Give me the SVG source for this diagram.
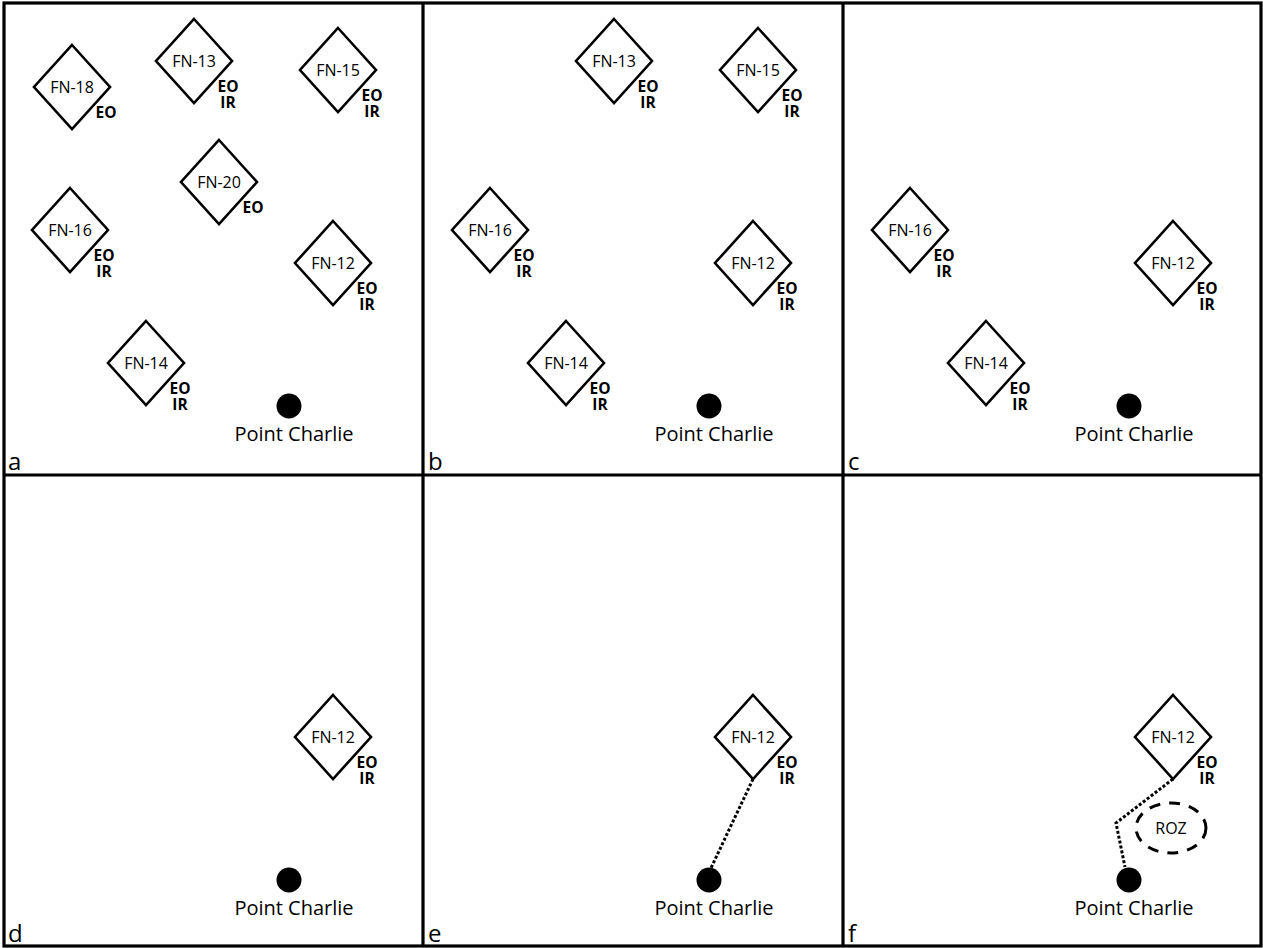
<svg xmlns="http://www.w3.org/2000/svg" xmlns:xlink="http://www.w3.org/1999/xlink" width="1263" height="948" viewBox="0 0 1263 948">
<style>
.frame{fill:none;stroke:#000;stroke-width:3.2}
.dia{fill:#fff;stroke:#000;stroke-width:2.6;stroke-linejoin:miter}
.fn{font-family:"Open Sans","Liberation Sans",sans-serif;font-size:16px;text-anchor:middle;fill:#000}
.sen{font-family:"Open Sans","Liberation Sans",sans-serif;font-size:15.5px;font-weight:bold;text-anchor:middle;fill:#000}
.pc{font-family:"Open Sans","Liberation Sans",sans-serif;font-size:20px;text-anchor:middle;fill:#000}
.lbl{font-family:"Open Sans","Liberation Sans",sans-serif;font-size:24px;fill:#000}
.dot{fill:none;stroke:#000;stroke-width:3;stroke-dasharray:3 2}
.roz{fill:none;stroke:#000;stroke-width:3;stroke-dasharray:11 9}
</style>
<defs>
<polygon id="dm" class="dia" points="0,-42 38,0 0,42 -38,0"/>
</defs>
<rect width="1263" height="948" fill="#fff"/>
<g id="frames">
<rect class="frame" x="4" y="3" width="1257" height="943"/>
<line class="frame" x1="423" y1="3" x2="423" y2="946"/>
<line class="frame" x1="843" y1="3" x2="843" y2="946"/>
<line class="frame" x1="4" y1="475" x2="1261" y2="475"/>
</g>
<g id="panel-labels">
<text class="lbl" x="8" y="470">a</text>
<text class="lbl" x="428" y="470">b</text>
<text class="lbl" x="848" y="470">c</text>
<text class="lbl" x="8" y="942">d</text>
<text class="lbl" x="428" y="942">e</text>
<text class="lbl" x="848" y="942">f</text>
</g>
<g id="connectors">
<line class="dot" x1="753" y1="779" x2="711" y2="868"/>
<polyline class="dot" points="1173,779 1116,823 1125,867"/>
</g>
<!-- Panel a -->
<g id="a-fn18" transform="translate(72,87)"><use href="#dm"/><text class="fn" x="0" y="6">FN-18</text><text class="sen" x="34" y="31">EO</text></g>
<g id="a-fn13" transform="translate(194,61)"><use href="#dm"/><text class="fn" x="0" y="6">FN-13</text><text class="sen" x="34" y="31">EO<tspan x="34" dy="16">IR</tspan></text></g>
<g id="a-fn15" transform="translate(338,70)"><use href="#dm"/><text class="fn" x="0" y="6">FN-15</text><text class="sen" x="34" y="31">EO<tspan x="34" dy="16">IR</tspan></text></g>
<g id="a-fn20" transform="translate(219,182)"><use href="#dm"/><text class="fn" x="0" y="6">FN-20</text><text class="sen" x="34" y="31">EO</text></g>
<g id="a-fn16" transform="translate(70,230)"><use href="#dm"/><text class="fn" x="0" y="6">FN-16</text><text class="sen" x="34" y="31">EO<tspan x="34" dy="16">IR</tspan></text></g>
<g id="a-fn12" transform="translate(333,263)"><use href="#dm"/><text class="fn" x="0" y="6">FN-12</text><text class="sen" x="34" y="31">EO<tspan x="34" dy="16">IR</tspan></text></g>
<g id="a-fn14" transform="translate(146,363)"><use href="#dm"/><text class="fn" x="0" y="6">FN-14</text><text class="sen" x="34" y="31">EO<tspan x="34" dy="16">IR</tspan></text></g>
<g id="a-pc" transform="translate(289,406)"><circle r="12.5" fill="#000"/><text class="pc" x="5" y="35">Point Charlie</text></g>
<!-- Panel b -->
<g id="b-fn13" transform="translate(614,61)"><use href="#dm"/><text class="fn" x="0" y="6">FN-13</text><text class="sen" x="34" y="31">EO<tspan x="34" dy="16">IR</tspan></text></g>
<g id="b-fn15" transform="translate(758,70)"><use href="#dm"/><text class="fn" x="0" y="6">FN-15</text><text class="sen" x="34" y="31">EO<tspan x="34" dy="16">IR</tspan></text></g>
<g id="b-fn16" transform="translate(490,230)"><use href="#dm"/><text class="fn" x="0" y="6">FN-16</text><text class="sen" x="34" y="31">EO<tspan x="34" dy="16">IR</tspan></text></g>
<g id="b-fn12" transform="translate(753,263)"><use href="#dm"/><text class="fn" x="0" y="6">FN-12</text><text class="sen" x="34" y="31">EO<tspan x="34" dy="16">IR</tspan></text></g>
<g id="b-fn14" transform="translate(566,363)"><use href="#dm"/><text class="fn" x="0" y="6">FN-14</text><text class="sen" x="34" y="31">EO<tspan x="34" dy="16">IR</tspan></text></g>
<g id="b-pc" transform="translate(709,406)"><circle r="12.5" fill="#000"/><text class="pc" x="5" y="35">Point Charlie</text></g>
<!-- Panel c -->
<g id="c-fn16" transform="translate(910,230)"><use href="#dm"/><text class="fn" x="0" y="6">FN-16</text><text class="sen" x="34" y="31">EO<tspan x="34" dy="16">IR</tspan></text></g>
<g id="c-fn12" transform="translate(1173,263)"><use href="#dm"/><text class="fn" x="0" y="6">FN-12</text><text class="sen" x="34" y="31">EO<tspan x="34" dy="16">IR</tspan></text></g>
<g id="c-fn14" transform="translate(986,363)"><use href="#dm"/><text class="fn" x="0" y="6">FN-14</text><text class="sen" x="34" y="31">EO<tspan x="34" dy="16">IR</tspan></text></g>
<g id="c-pc" transform="translate(1129,406)"><circle r="12.5" fill="#000"/><text class="pc" x="5" y="35">Point Charlie</text></g>
<!-- Panel d -->
<g id="d-fn12" transform="translate(333,737)"><use href="#dm"/><text class="fn" x="0" y="6">FN-12</text><text class="sen" x="34" y="31">EO<tspan x="34" dy="16">IR</tspan></text></g>
<g id="d-pc" transform="translate(289,880)"><circle r="12.5" fill="#000"/><text class="pc" x="5" y="35">Point Charlie</text></g>
<!-- Panel e -->
<g id="e-fn12" transform="translate(753,737)"><use href="#dm"/><text class="fn" x="0" y="6">FN-12</text><text class="sen" x="34" y="31">EO<tspan x="34" dy="16">IR</tspan></text></g>
<g id="e-pc" transform="translate(709,880)"><circle r="12.5" fill="#000"/><text class="pc" x="5" y="35">Point Charlie</text></g>
<!-- Panel f -->
<g id="f-fn12" transform="translate(1173,737)"><use href="#dm"/><text class="fn" x="0" y="6">FN-12</text><text class="sen" x="34" y="31">EO<tspan x="34" dy="16">IR</tspan></text></g>
<g id="f-roz"><ellipse class="roz" cx="1171" cy="828" rx="35" ry="25"/><text class="fn" x="1171" y="834">ROZ</text></g>
<g id="f-pc" transform="translate(1129,880)"><circle r="12.5" fill="#000"/><text class="pc" x="5" y="35">Point Charlie</text></g>
</svg>
